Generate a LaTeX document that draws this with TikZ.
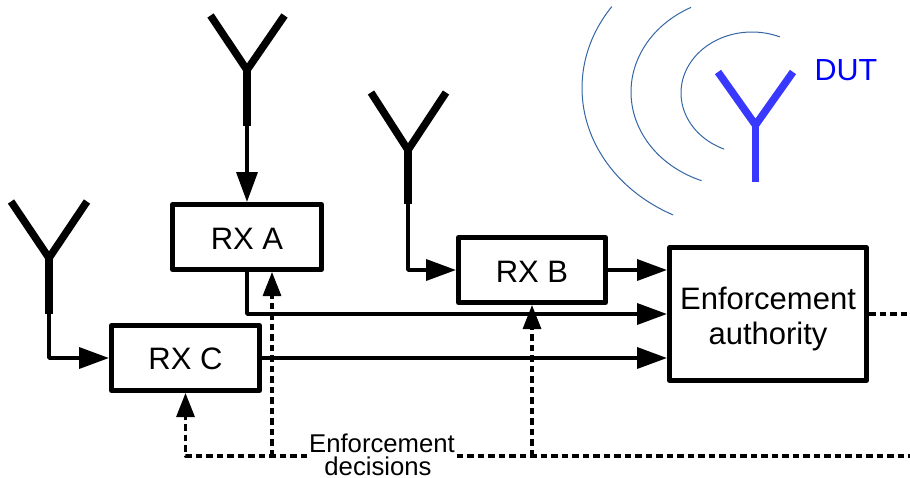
\documentclass[tikz,border=0pt]{standalone}
\usepackage{fontspec}
\setmainfont{Liberation Sans}
\usetikzlibrary{arrows.meta}
\definecolor{dutblue}{HTML}{3838FF}
\definecolor{wave}{HTML}{3465A4}
\tikzset{
  x=1pt,y=-1pt,
  rxbox/.style={draw=black,line width=5pt,line join=round,inner sep=0pt,font=\fontsize{31}{31}\selectfont},
  ant/.style={line width=7.5pt,line join=miter},
  feed/.style={line width=3.6pt,line join=round},
  sig/.style={feed,-{Triangle[length=30pt,width=21pt]}},
  dec/.style={line width=3.1pt,line join=round,dash pattern=on 6.5pt off 4pt},
  decarrow/.style={dec,-{Triangle[length=24pt,width=18pt]}},
  wavearc/.style={wave,line width=1pt},
}
\begin{document}
\begin{tikzpicture}
\useasboundingbox (0,0) rectangle (910,477);
% device under test with its waves
\draw[wavearc] plot[domain=113:293,samples=60,smooth] ({752+71*cos(\x)},{93+61*sin(\x)});
\draw[wavearc] plot[domain=111:243,samples=60,smooth] ({741+110*cos(\x)},{92+95*sin(\x)});
\draw[wavearc] plot[domain=116.6:215,samples=60,smooth] ({747+165*cos(\x)},{88+142*sin(\x)});
\draw[ant,dutblue] (718,72) -- (755.5,125) -- (793,72);
\draw[ant,dutblue] (755.5,122) -- (755.5,182);
\node[text=blue,font=\fontsize{30.5}{30.5}\selectfont,inner sep=0pt] (dut) at (846,70) {DUT};
% boxes
\node[rxbox,minimum width=149pt,minimum height=65pt] (rxa) at (247,237) {\rule{0pt}{24pt}RX A};
\node[rxbox,minimum width=147pt,minimum height=65pt] (rxb) at (532,270) {\rule{0pt}{24pt}RX B};
\node[rxbox,minimum width=148pt,minimum height=65pt] (rxc) at (185.5,358) {\rule{0pt}{24pt}RX C};
\node[rxbox,minimum width=197pt,minimum height=132.5pt,align=center,font=\fontsize{31}{35}\selectfont] (ea) at (768,314) {\rule{0pt}{32pt}Enforcement\\authority};
\node[inner sep=0pt,minimum width=149pt,align=center,font=\fontsize{25.7}{23}\selectfont] (lbl) at (382,455) {Enforcement\\decisions\hspace*{8pt}};
% antennas
\coordinate (afoot) at (247,126);
\coordinate (bfoot) at (408,204);
\coordinate (cfoot) at (49,314);
\draw[ant] (210.5,15.5) -- (247,70) -- (284.5,15.5);
\draw[ant] (247,68) -- (afoot);
\draw[ant] (371,92.5) -- (408,150) -- (446,92.5);
\draw[ant] (408,148) -- (bfoot);
\draw[ant] (11,201.5) -- (49,258) -- (87,201.5);
\draw[ant] (49,256) -- (cfoot);
% signal connectors
\draw[sig] (afoot) -- (rxa.north);
\draw[sig] (bfoot) |- (rxb.west);
\draw[sig] (cfoot) |- (rxc.west);
\draw[sig] (rxb.east) -- (rxb.east -| ea.west);
\draw[sig] (rxa.south) |- (ea.west);
\draw[sig] (rxc.east) -- (rxc.east -| ea.west);
% decision connectors
\coordinate (busend) at (910,456);
\coordinate (eaout) at (910,314);
\coordinate (ja) at (272,456);
\coordinate (jb) at (532,456);
\draw[dec] (ea.east) -- (eaout);
\draw[dec] (lbl.east |- busend) -- (busend);
\draw[decarrow] (lbl.west |- busend) -| (rxc.south);
\draw[decarrow] (ja) -- (ja |- rxa.south);
\draw[decarrow] (jb) -- (rxb.south);
\end{tikzpicture}
\end{document}
